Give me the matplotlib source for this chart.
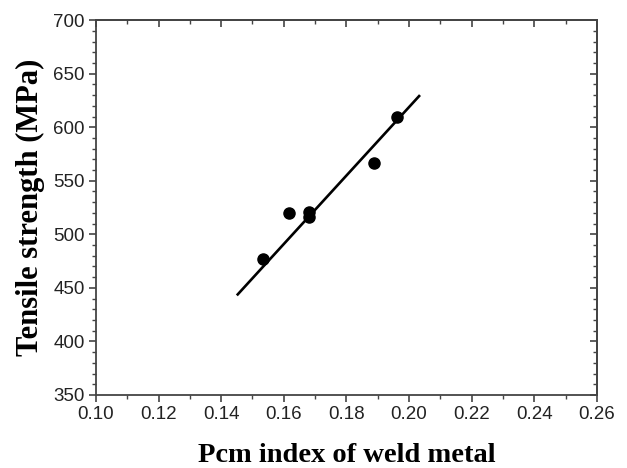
import numpy as np
import matplotlib.pyplot as plt
from matplotlib.ticker import MultipleLocator

# data
pcm = [0.1533, 0.1616, 0.168, 0.168, 0.1888, 0.1961]
tensile = [477, 520, 521, 516, 566.5, 609.5]

# fitted line end points
fit_x = [0.145, 0.2035]
fit_y = [443, 630]

fig = plt.figure(figsize=(6.27, 4.68), dpi=100)
ax = fig.add_axes([0.153, 0.156, 0.799, 0.801])

ax.plot(fit_x, fit_y, color='black', lw=1.9, solid_capstyle='butt')
ax.plot(pcm, tensile, 'o', color='black', ms=8)

ax.set_xlim(0.10, 0.26)
ax.set_ylim(350, 700)
ax.xaxis.set_major_locator(MultipleLocator(0.02))
ax.xaxis.set_minor_locator(MultipleLocator(0.01))
ax.yaxis.set_major_locator(MultipleLocator(50))
ax.yaxis.set_minor_locator(MultipleLocator(10))
ax.set_xticklabels([f'{v:.2f}' for v in ax.get_xticks()])

tick_font = 'Liberation Sans'
for lab in ax.get_xticklabels() + ax.get_yticklabels():
    lab.set_fontfamily(tick_font)
    lab.set_fontsize(13.5)
    lab.set_color('#222222')

ax.tick_params(which='major', direction='out', length=5, width=1.2, color='#444444', pad=3)
ax.tick_params(which='minor', direction='out', length=3, width=1.0, color='#444444')
for s in ax.spines.values():
    s.set_linewidth(1.3)
    s.set_color('#444444')

# inward ticks on top and right, no labels
top = ax.secondary_xaxis('top')
top.xaxis.set_major_locator(MultipleLocator(0.02))
top.xaxis.set_minor_locator(MultipleLocator(0.01))
top.tick_params(which='major', direction='in', length=5, width=1.2, color='#444444', labeltop=False)
top.tick_params(which='minor', direction='in', length=3, width=1.0, color='#444444')
right = ax.secondary_yaxis('right')
right.yaxis.set_major_locator(MultipleLocator(50))
right.yaxis.set_minor_locator(MultipleLocator(10))
right.tick_params(which='major', direction='in', length=5, width=1.2, color='#444444', labelright=False)
right.tick_params(which='minor', direction='in', length=3, width=1.0, color='#444444')
for sec in (top, right):
    for s in sec.spines.values():
        s.set_linewidth(1.3)
        s.set_color('#444444')

ax.set_xlabel('Pcm index of weld metal', fontfamily='Liberation Serif',
              fontweight='bold', fontsize=20.5, labelpad=14)
ax.set_ylabel('Tensile strength (MPa)', fontfamily='Liberation Serif',
              fontweight='bold', fontsize=22, labelpad=6)

fig.savefig('out.png', dpi=100)
